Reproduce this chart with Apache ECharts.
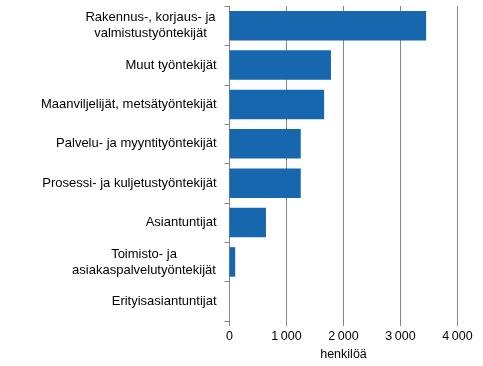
<!DOCTYPE html>
<html><head><meta charset="utf-8">
<script src="https://cdn.jsdelivr.net/npm/echarts@6/dist/echarts.min.js"></script>
<style>html,body{margin:0;padding:0;background:#fff}#c{width:483px;height:366px}</style>
</head><body><div id="c"></div>
<script>
const categories = [
  "Rakennus-, korjaus- ja\nvalmistustyöntekijät",
  "Muut työntekijät",
  "Maanviljelijät, metsätyöntekijät",
  "Palvelu- ja myyntityöntekijät",
  "Prosessi- ja kuljetustyöntekijät",
  "Asiantuntijat",
  "Toimisto- ja\nasiakaspalvelutyöntekijät",
  "Erityisasiantuntijat"
];
const values = [3450, 1780, 1660, 1250, 1250, 640, 100, 0];
const xTicks = [0, 1000, 2000, 3000, 4000];
const axisName = "henkilöä";

const FONT = 'Liberation Sans, Arial, sans-serif';
const LABEL_SIZE = 13;
const ctx = document.createElement('canvas').getContext('2d');
ctx.font = LABEL_SIZE + 'px ' + FONT;
const rich = {};
const multiIdx = {};
categories.forEach((c, i) => {
  if (c.indexOf('\n') >= 0) {
    const w = Math.max(...c.split('\n').map(l => ctx.measureText(l).width));
    rich['m' + i] = {width: Math.ceil(w) + 1, align: 'center', fontSize: LABEL_SIZE, lineHeight: 16, color: '#000', fontFamily: FONT};
    multiIdx[c] = i;
  }
});

const chart = echarts.init(document.getElementById('c'), null, {renderer: 'canvas'});
const fmt = v => v === 0 ? '0' : String(v).replace(/\B(?=(\d{3})+(?!\d))/g, '\u2009');
chart.setOption({
  animation: false,
  textStyle: {fontFamily: FONT},
  grid: {left: 229.5, top: 6, right: 25.5, bottom: 43, containLabel: false},
  xAxis: {
    type: 'value', min: xTicks[0], max: xTicks[xTicks.length - 1], interval: 1000,
    name: axisName, nameLocation: 'middle', nameGap: 27,
    nameTextStyle: {color: '#000', fontSize: 12.5},
    axisLine: {show: false},
    axisTick: {show: true, length: 5, lineStyle: {color: '#868686'}},
    splitLine: {show: true, lineStyle: {color: '#868686', width: 1}},
    axisLabel: {color: '#000', fontSize: 12.5, margin: 9, formatter: fmt}
  },
  yAxis: {
    type: 'category', data: categories, inverse: true,
    axisLine: {show: true, lineStyle: {color: '#868686'}},
    axisTick: {show: true, length: 5, alignWithLabel: false, lineStyle: {color: '#868686'}},
    axisLabel: {
      color: '#000', fontSize: LABEL_SIZE, margin: 13, lineHeight: 16, align: 'right',
      rich: rich,
      formatter: v => (v in multiIdx)
        ? v.split('\n').map(l => '{m' + multiIdx[v] + '|' + l + '}').join('\n')
        : v
    }
  },
  series: [{
    type: 'bar', data: values, barCategoryGap: '25%',
    itemStyle: {color: '#1767AF'}
  }]
});
</script></body></html>
